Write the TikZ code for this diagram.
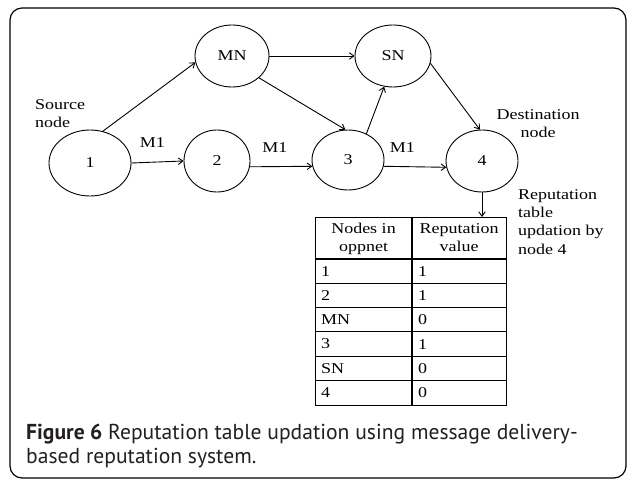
\documentclass[tikz,border=0pt]{standalone}
\usepackage{fontspec}
\usetikzlibrary{arrows,arrows.meta,shapes,positioning}
\newfontfamily\diagfont{Liberation Serif}[FakeStretch=1.2]
\newfontfamily\capfont{PT Sans}
\definecolor{captext}{HTML}{231F20}
\tikzset{
  hop/.style={ellipse, draw, line width=0.9bp, inner sep=0pt,
    minimum width=72bp, minimum height=62bp,
    font=\diagfont\fontsize{15bp}{18bp}\selectfont},
  lbl/.style={inner sep=0pt, font=\diagfont\fontsize{15bp}{18.3bp}\selectfont},
  msg/.style={-{Straight Barb[length=4.5bp,width=6.5bp]}, line width=0.9bp},
  grid/.style={line width=1.1bp}
}
\begin{document}
\begin{tikzpicture}[x=1bp, y=-1bp]
\useasboundingbox (0,0) rectangle (627,480);
\draw [rounded corners=12bp, line width=1.2bp] (10,8) rectangle (626,478);

\node[hop, minimum width=82bp, minimum height=66bp] (n1) at (90,163) {1};
\node[hop, minimum width=66bp] (n2) at (217,161) {2};
\node[hop, minimum height=60bp] (n3) at (348,160) {3};
\node[hop] (n4) at (482,161) {4};
\node[hop, minimum width=74bp] (mn) at (232,56) {MN};
\node[hop, minimum width=76bp] (sn) at (393,56) {SN};

\node[lbl, align=left, anchor=north west] (src) at (35,99) {Source\\node};
\node[lbl, align=center, anchor=north] (dst) at (538,109) {Destination\\node};

\draw [msg] (n1.68) -- (mn.190);
\draw [msg] (mn.east) -- (sn.west);
\draw [msg] (mn.-39) -- (n3.95);
\draw [msg] (n3.55) -- (sn.-106);
\draw [msg] (sn.-11) -- (n4.94);
\draw [msg] (n1.east) -- node[lbl, above=14bp, pos=0.4] (m1a) {M1} (n2.west);
\draw [msg] (n2.-10) -- node[lbl, above=14bp, pos=0.4] (m1b) {M1} (n3.190);
\draw [msg] (n3.-10) -- node[lbl, above=14bp, pos=0.3] (m1c) {M1} (n4.190);

% reputation table of node 4
\node[draw, grid, inner sep=0pt, anchor=north west, minimum width=191bp,
  minimum height=187.8bp] (tbl) at (315,217) {};
\draw [grid] (412,217) -- (412,404.8);
\draw [grid] (315,259) -- (506,259);
\foreach \k in {1,...,5}
  \draw [grid] (315,259+24.3*\k) -- (506,259+24.3*\k);
\node[lbl, align=center, anchor=north] (hdra) at (363.5,223) {Nodes in\\oppnet};
\node[lbl, align=center, anchor=north] (hdrb) at (459,223) {Reputation\\value};
\foreach \a/\b [count=\i] in {1/1,2/1,MN/0,3/1,SN/0,4/0} {
  \node[lbl, anchor=west] (ka\i) at (321,246.85+24.3*\i) {\a};
  \node[lbl, anchor=west] (kb\i) at (418,246.85+24.3*\i) {\b};
}
\draw [msg] (n4.south) -- (n4.south |- tbl.north);
\node[lbl, align=left, anchor=north west] (upd) at (518,189)
  {Reputation\\table\\updation by\\node 4};

\node[anchor=north west, align=left, inner sep=0pt, text=captext,
  font=\capfont\fontsize{21.6bp}{23.5bp}\selectfont] (cap) at (26,424)
  {\textbf{Figure 6} Reputation table updation using message delivery-\\based reputation system.};
\end{tikzpicture}
\end{document}
